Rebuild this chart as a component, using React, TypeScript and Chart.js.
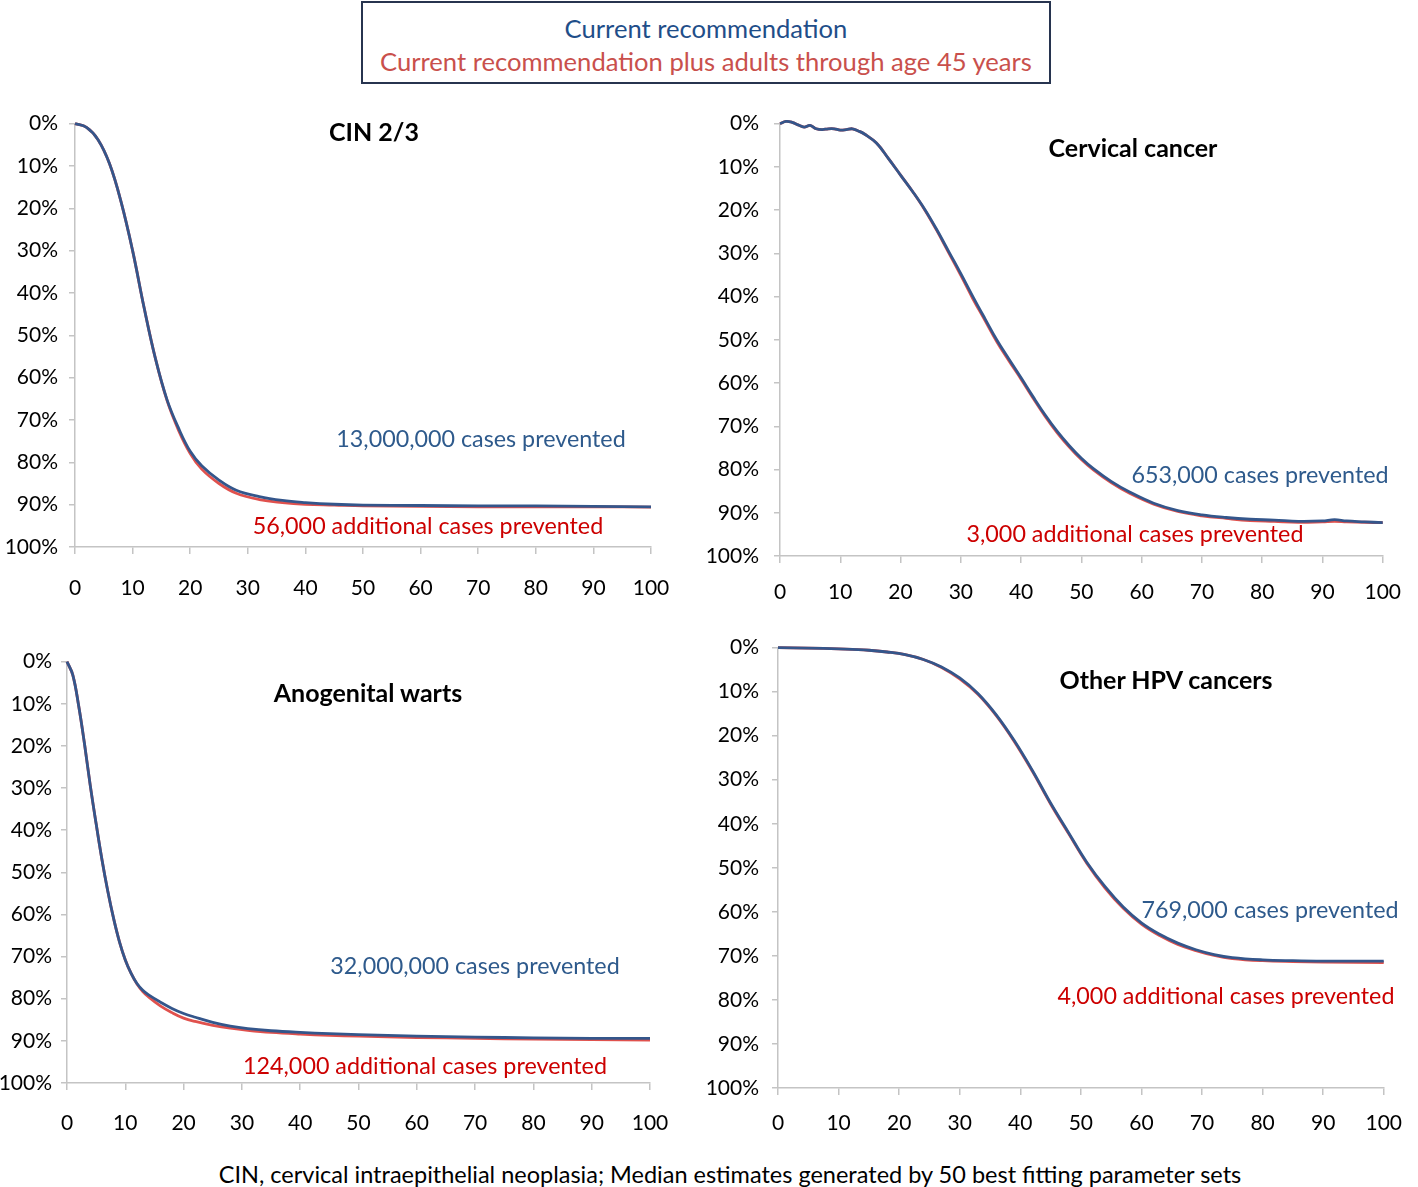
import React, { useEffect, useRef } from "react";
import { Chart, registerables } from "chart.js";

Chart.register(...registerables);

const FONT = "Lato, 'Open Sans', sans-serif";

// ---------------- DATA ----------------
const xTicks = [0, 10, 20, 30, 40, 50, 60, 70, 80, 90, 100];
const yTickLabels = ["0%", "10%", "20%", "30%", "40%", "50%", "60%", "70%", "80%", "90%", "100%"];

const legendCurrent = "Current recommendation";
const legendPlus45 = "Current recommendation plus adults through age 45 years";
const footnote = "CIN, cervical intraepithelial neoplasia; Median estimates generated by 50 best fitting parameter sets";

// CIN 2/3
const cinYears = [0, 2, 4, 6, 8, 10, 12, 14, 16, 18, 20, 22, 25, 28, 32, 36, 40, 45, 50, 60, 70, 80, 90, 100];
const cinCurrent = [0, 0.9, 3.8, 9.5, 18.5, 30, 43.5, 55.7, 65.3, 72.0, 77.4, 80.8, 84.2, 86.6, 88.1, 89.0, 89.5, 89.9, 90.1, 90.2, 90.3, 90.3, 90.4, 90.5];
const cinPlus45 = [0, 0.9, 3.8, 9.5, 18.5, 30, 43.5, 55.7, 65.5, 72.5, 77.9, 81.6, 85.0, 87.3, 88.8, 89.5, 89.9, 90.1, 90.3, 90.4, 90.5, 90.5, 90.5, 90.6];

// Cervical cancer
const cxYears = [0, 1, 2, 3, 4, 5, 6, 7, 8, 9, 10, 11, 12, 13, 14, 16, 18, 20, 22, 24, 26, 28, 30, 32, 34, 36, 38, 40, 42, 44, 46, 48, 50, 52, 55, 58, 62, 66, 70, 74, 78, 82, 86, 90, 92, 94, 97, 100];
const cxCurrent = [0, -0.5, -0.3, 0.3, 0.8, 0.4, 1.2, 1.4, 1.2, 1.2, 1.5, 1.4, 1.2, 1.7, 2.4, 4.5, 8.1, 11.9, 15.7, 19.8, 24.5, 29.6, 34.7, 40.0, 45.1, 50.1, 54.5, 58.8, 63.2, 67.4, 71.2, 74.5, 77.4, 79.8, 82.8, 85.2, 87.8, 89.5, 90.5, 91.1, 91.5, 91.7, 92.0, 91.9, 91.6, 91.9, 92.1, 92.3];
const cxPlus45 = [0, -0.5, -0.3, 0.3, 0.8, 0.4, 1.2, 1.4, 1.2, 1.2, 1.5, 1.4, 1.2, 1.7, 2.4, 4.5, 8.1, 11.9, 15.7, 19.9, 24.7, 29.9, 35.1, 40.5, 45.5, 50.5, 54.9, 59.1, 63.5, 67.7, 71.5, 74.8, 77.7, 80.1, 83.1, 85.5, 88.0, 89.7, 90.7, 91.3, 91.8, 92.0, 92.2, 92.1, 92.0, 92.1, 92.2, 92.3];

// Anogenital warts
const awYears = [0, 1, 2, 3, 4, 5, 6, 7, 8, 9, 10, 11, 12, 13, 14, 16, 18, 20, 22, 25, 28, 31, 35, 40, 45, 50, 60, 70, 80, 90, 100];
const awCurrent = [0, 3.2, 10.5, 19.5, 29.5, 38.5, 47, 54.5, 61, 66.5, 70.8, 74, 76.4, 78, 79.1, 80.8, 82.3, 83.5, 84.4, 85.6, 86.5, 87.1, 87.6, 88.0, 88.3, 88.5, 88.9, 89.1, 89.3, 89.4, 89.4];
const awPlus45 = [0, 3.2, 10.5, 19.5, 29.5, 38.5, 47, 54.5, 61, 66.5, 70.8, 74, 76.5, 78.3, 79.6, 81.7, 83.3, 84.6, 85.4, 86.3, 87.0, 87.5, 88.0, 88.4, 88.7, 88.9, 89.2, 89.4, 89.6, 89.7, 89.8];

// Other HPV cancers
const ohYears = [0, 5, 10, 15, 18, 21, 24, 27, 30, 33, 36, 39, 42, 45, 48, 51, 54, 57, 60, 63, 66, 69, 72, 75, 80, 85, 90, 100];
const ohCurrent = [0, 0.1, 0.3, 0.6, 1.0, 1.6, 2.7, 4.4, 6.9, 10.4, 15.2, 21.1, 27.9, 35.3, 42.1, 48.8, 54.3, 58.9, 62.5, 65.1, 67.1, 68.6, 69.7, 70.4, 70.9, 71.1, 71.2, 71.2];
const ohPlus45 = [0, 0.1, 0.3, 0.6, 1.0, 1.6, 2.7, 4.5, 7.1, 10.6, 15.4, 21.3, 28.1, 35.5, 42.3, 49.0, 54.6, 59.2, 62.8, 65.4, 67.4, 68.8, 69.9, 70.6, 71.1, 71.3, 71.4, 71.5];

// ---------------- STYLE ----------------
const BLUE_LINE = "#34568b";
const RED_LINE = "#e0514d";
const BLUE_TEXT = "#2e5a8c";
const RED_TEXT = "#cc0000";
const AXIS = "#c4c4c4";

type Box = { left: number; top: number; w: number; h: number };
type Area = { left: number; top: number; right: number; bottom: number };
type Label = { text: string; x: number; y: number; color: string; bold?: boolean };

type PanelDef = {
  box: Box;
  area: Area;
  yPad: number;
  xPad: number;
  years: number[];
  current: number[];
  plus: number[];
};

const panels: PanelDef[] = [
  { box: { left: 0, top: 100, w: 700, h: 510 }, area: { left: 75, top: 119, right: 651, bottom: 547 }, yPad: 11, xPad: 22, years: cinYears, current: cinCurrent, plus: cinPlus45 },
  { box: { left: 700, top: 96, w: 718, h: 514 }, area: { left: 780, top: 115, right: 1384, bottom: 556 }, yPad: 15, xPad: 17, years: cxYears, current: cxCurrent, plus: cxPlus45 },
  { box: { left: 0, top: 640, w: 700, h: 500 }, area: { left: 67, top: 659, right: 650, bottom: 1083 }, yPad: 9, xPad: 21, years: awYears, current: awCurrent, plus: awPlus45 },
  { box: { left: 700, top: 622, w: 718, h: 518 }, area: { left: 778, top: 642, right: 1387, bottom: 1088 }, yPad: 13, xPad: 16, years: ohYears, current: ohCurrent, plus: ohPlus45 },
];

const labels: Label[] = [
  { text: "CIN 2/3", x: 374, y: 131, color: "#000", bold: true },
  { text: "13,000,000 cases prevented", x: 481, y: 438, color: BLUE_TEXT },
  { text: "56,000 additional cases prevented", x: 428, y: 525, color: RED_TEXT },
  { text: "Cervical cancer", x: 1133, y: 147, color: "#000", bold: true },
  { text: "653,000 cases prevented", x: 1260, y: 474, color: BLUE_TEXT },
  { text: "3,000 additional cases prevented", x: 1135, y: 533, color: RED_TEXT },
  { text: "Anogenital warts", x: 368, y: 692, color: "#000", bold: true },
  { text: "32,000,000 cases prevented", x: 475, y: 965, color: BLUE_TEXT },
  { text: "124,000 additional cases prevented", x: 425, y: 1065, color: RED_TEXT },
  { text: "Other HPV cancers", x: 1166, y: 679, color: "#000", bold: true },
  { text: "769,000 cases prevented", x: 1270, y: 909, color: BLUE_TEXT },
  { text: "4,000 additional cases prevented", x: 1226, y: 995, color: RED_TEXT },
];

function PanelChart({ p }: { p: PanelDef }) {
  const ref = useRef<HTMLCanvasElement | null>(null);
  useEffect(() => {
    if (!ref.current) return;
    const { box, area } = p;
    const tickFont = { family: FONT, size: 21 };
    const chart = new Chart(ref.current, {
      type: "line",
      data: {
        datasets: [
          {
            label: legendCurrent,
            data: p.years.map((x, i) => ({ x, y: p.current[i] })),
            borderColor: BLUE_LINE,
            borderWidth: 2.8,
            pointRadius: 0,
            tension: 0.4,
            clip: false,
          },
          {
            label: legendPlus45,
            data: p.years.map((x, i) => ({ x, y: p.plus[i] })),
            borderColor: RED_LINE,
            borderWidth: 2.8,
            pointRadius: 0,
            tension: 0.4,
            clip: false,
          },
        ],
      } as any,
      options: {
        responsive: false,
        maintainAspectRatio: false,
        animation: false,
        layout: {
          padding: {
            top: area.top - box.top,
            right: box.left + box.w - area.right,
            left: 0,
            bottom: 0,
          },
        },
        plugins: { legend: { display: false }, tooltip: { enabled: false } },
        scales: {
          x: {
            type: "linear",
            min: 0,
            max: 100,
            afterBuildTicks: (s: any) => {
              s.ticks = xTicks.map((v) => ({ value: v }));
            },
            ticks: { font: tickFont, color: "#000", padding: p.xPad, maxRotation: 0, autoSkip: false },
            grid: { drawOnChartArea: false, tickLength: 7, color: AXIS, lineWidth: 1.5 },
            border: { color: AXIS, width: 1.5 },
            afterFit: (s: any) => {
              s.height = box.top + box.h - area.bottom;
            },
          },
          y: {
            type: "linear",
            min: 0,
            max: 100,
            reverse: true,
            afterBuildTicks: (s: any) => {
              s.ticks = yTickLabels.map((_, i) => ({ value: i * 10 }));
            },
            ticks: {
              font: tickFont,
              color: "#000",
              padding: p.yPad,
              autoSkip: false,
              callback: (_v: any, i: number) => yTickLabels[i],
            },
            grid: { drawOnChartArea: false, tickLength: 6, color: AXIS, lineWidth: 1.5 },
            border: { color: AXIS, width: 1.5 },
            afterFit: (s: any) => {
              s.width = area.left - box.left;
            },
          },
        },
      } as any,
    });
    return () => chart.destroy();
  }, [p]);
  return (
    <canvas
      ref={ref}
      width={p.box.w}
      height={p.box.h}
      style={{ position: "absolute", left: p.box.left, top: p.box.top, width: p.box.w, height: p.box.h }}
    />
  );
}

export default function App() {
  return (
    <div
      style={{
        position: "absolute",
        left: 0,
        top: 0,
        width: 1418,
        height: 1187,
        background: "#fff",
        fontFamily: FONT,
        overflow: "hidden",
      }}
    >
      {panels.map((p, i) => (
        <PanelChart key={i} p={p} />
      ))}
      <div
        style={{
          position: "absolute",
          left: 361,
          top: 1,
          width: 690,
          height: 83,
          boxSizing: "border-box",
          border: "2px solid #27344f",
          background: "#fff",
        }}
      >
        <div style={{ position: "absolute", left: 0, right: 0, top: 25, transform: "translateY(-50%)", textAlign: "center", color: "#1f4e89", fontSize: 25.6, whiteSpace: "nowrap" }}>
          {legendCurrent}
        </div>
        <div style={{ position: "absolute", left: 0, right: 0, top: 58, transform: "translateY(-50%)", textAlign: "center", color: "#c9504c", fontSize: 25.6, whiteSpace: "nowrap" }}>
          {legendPlus45}
        </div>
      </div>
      {labels.map((l, i) => (
        <div
          key={i}
          style={{
            position: "absolute",
            left: l.x,
            top: l.y,
            transform: "translate(-50%, -50%)",
            color: l.color,
            fontWeight: l.bold ? 700 : 400,
            fontSize: l.bold ? 25 : 23.3,
            whiteSpace: "nowrap",
          }}
        >
          {l.text}
        </div>
      ))}
      <div
        style={{
          position: "absolute",
          left: 730,
          top: 1174,
          transform: "translate(-50%, -50%)",
          color: "#000",
          fontSize: 23.5,
          whiteSpace: "nowrap",
        }}
      >
        {footnote}
      </div>
    </div>
  );
}
